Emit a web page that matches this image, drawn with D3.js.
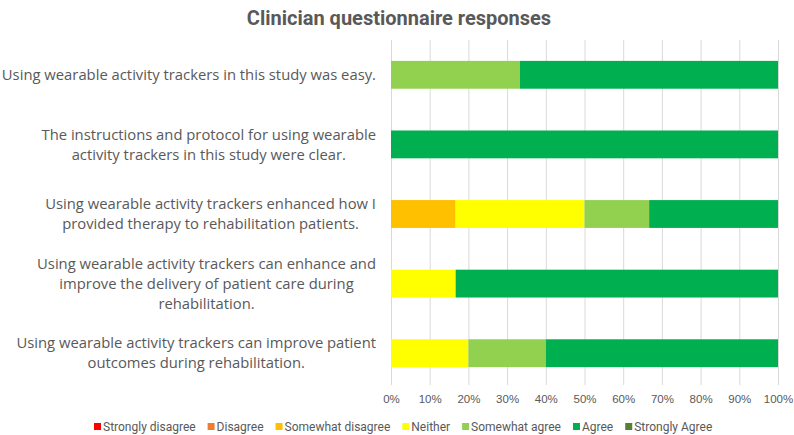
<!DOCTYPE html>
<html>
<head>
<meta charset="utf-8">
<script src="https://cdn.jsdelivr.net/npm/d3@7"></script>
<style>
  body { margin: 0; background: #fff; }
  text { fill: #595959; }
</style>
</head>
<body>
<div id="chart"></div>
<script>
// questions, each one split into the lines shown in the picture
var questions = [
    ["Using wearable activity trackers in this study was easy."],
    ["The instructions and protocol for using wearable", "activity trackers in this study were clear."],
    ["Using wearable activity trackers enhanced how I", "provided therapy to rehabilitation patients."],
    ["Using wearable activity trackers can enhance and", "improve the delivery of patient care during", "rehabilitation."],
    ["Using wearable activity trackers can improve patient", "outcomes during rehabilitation."]
];
var responses = ["Strongly disagree", "Disagree", "Somewhat disagree", "Neither", "Somewhat agree", "Agree", "Strongly Agree"];
var colors = ["#FF0000", "#ED7D31", "#FFC000", "#FFFF00", "#92D050", "#00B050", "#548235"];
// percentage of answers per question, in the order of responses
var shares = [
    [0, 0, 0, 0, 33.3, 66.7, 0],
    [0, 0, 0, 0, 0, 100, 0],
    [0, 0, 16.7, 33.3, 16.7, 33.3, 0],
    [0, 0, 0, 16.7, 0, 83.3, 0],
    [0, 0, 0, 20, 20, 60, 0]
];
var ticks = [0, 10, 20, 30, 40, 50, 60, 70, 80, 90, 100];

var width = 794, height = 435;
var plotLeft = 391, plotRight = 778, plotTop = 40, plotBottom = 388;

var svg = d3.select("#chart").append("svg")
    .attr("width", width)
    .attr("height", height)
    .style("font-family", "'Open Sans', sans-serif");

svg.append("text")
    .attr("x", 399)
    .attr("y", 25)
    .attr("text-anchor", "middle")
    .style("font-family", "Roboto, sans-serif")
    .style("font-weight", "bold")
    .style("font-size", "20px")
    .text("Clinician questionnaire responses");

var x = d3.scaleLinear().domain([0, 100]).range([plotLeft, plotRight]);
var y = d3.scaleBand().domain(d3.range(questions.length))
    .range([plotTop, plotBottom]).paddingInner(0.6).paddingOuter(0.3);

// gridlines
svg.append("g").selectAll("line")
    .data(ticks)
    .enter().append("line")
    .attr("x1", function(d) { return x(d) + 0.5; })
    .attr("x2", function(d) { return x(d) + 0.5; })
    .attr("y1", plotTop)
    .attr("y2", plotBottom - 3)
    .attr("stroke", "#d9d9d9")
    .attr("stroke-width", 1);

// stacked bars
var rows = shares.map(function(row) {
    var acc = 0;
    return row.map(function(v, k) {
        var seg = {x0: acc, x1: acc + v, k: k};
        acc += v;
        return seg;
    });
});

var g_row = svg.append("g").selectAll("g")
    .data(rows)
    .enter().append("g")
    .attr("transform", function(d, i) { return "translate(0," + y(i) + ")"; });

g_row.selectAll("rect")
    .data(function(d) { return d.filter(function(s) { return s.x1 > s.x0; }); })
    .enter().append("rect")
    .attr("x", function(d) { return x(d.x0); })
    .attr("width", function(d) { return x(d.x1) - x(d.x0); })
    .attr("height", y.bandwidth())
    .attr("fill", function(d) { return colors[d.k]; });

// x axis labels
var xAxis = d3.axisBottom(x).tickValues(ticks)
    .tickFormat(function(d) { return d + "%"; })
    .tickSize(0).tickPadding(7);
var ax = svg.append("g")
    .attr("transform", "translate(0," + plotBottom + ")")
    .call(xAxis);
ax.select(".domain").remove();
ax.selectAll("text")
    .style("font-family", "'Liberation Sans', Arial, sans-serif")
    .style("font-size", "11.5px")
    .attr("fill", "#595959");

// question labels: centered block, right edge at labelRight
var labelRight = 376, lineH = 20;
var g_lab = svg.append("g").selectAll("text")
    .data(questions)
    .enter().append("text")
    .style("font-size", "14.8px");

g_lab.each(function(lines, i) {
    var t = d3.select(this);
    var cy = y(i) + y.bandwidth() / 2;
    var n = lines.length;
    lines.forEach(function(line, j) {
        t.append("tspan")
            .attr("y", cy + (j - (n - 1) / 2) * lineH)
            .attr("dy", "0.35em")
            .text(line);
    });
    var maxW = 0;
    t.selectAll("tspan").each(function() {
        maxW = Math.max(maxW, this.getComputedTextLength());
    });
    t.attr("text-anchor", "middle");
    t.selectAll("tspan").attr("x", labelRight - maxW / 2);
});

// legend
var legend = svg.append("g").attr("transform", "translate(0,427)");
var lx = 94;
responses.forEach(function(r, k) {
    var item = legend.append("g").attr("transform", "translate(" + lx + ",0)");
    item.append("rect")
        .attr("x", 0).attr("y", -4)
        .attr("width", 7).attr("height", 7)
        .attr("fill", colors[k]);
    var t = item.append("text")
        .attr("x", 9)
        .attr("dy", "0.35em")
        .style("font-family", "Roboto, sans-serif")
        .style("font-size", "12px")
        .text(r);
    lx += 9 + t.node().getComputedTextLength() + 12;
});
</script>
</body>
</html>
